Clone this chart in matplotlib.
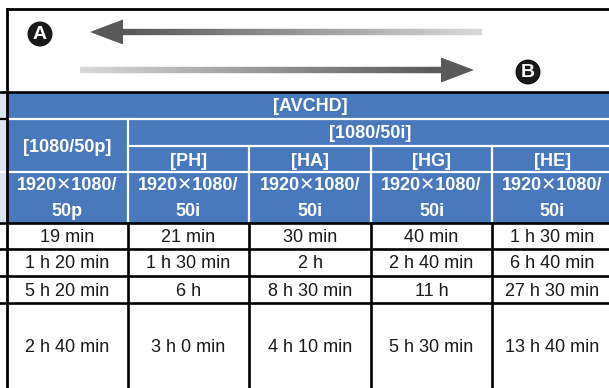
import matplotlib
matplotlib.use("Agg")
import matplotlib.pyplot as plt
import numpy as np
from matplotlib.path import Path
from matplotlib.patches import PathPatch, Circle, Rectangle

plt.rcParams['font.family'] = ['Liberation Sans', 'Noto Sans CJK JP', 'DejaVu Sans']

# table content
group_label = '[AVCHD]'
sub_group_label = '[1080/50i]'
modes = ['[1080/50p]', '[PH]', '[HA]', '[HG]', '[HE]']
resolutions = ['1920\u27151080/\n50p', '1920\u27151080/\n50i', '1920\u27151080/\n50i',
               '1920\u27151080/\n50i', '1920\u27151080/\n50i']
times_row1 = ['19 min', '21 min', '30 min', '40 min', '1 h 30 min']
times_row2 = ['1 h 20 min', '1 h 30 min', '2 h', '2 h 40 min', '6 h 40 min']
times_row3 = ['5 h 20 min', '6 h', '8 h 30 min', '11 h', '27 h 30 min']
times_row4 = ['2 h 40 min', '3 h 0 min', '4 h 10 min', '5 h 30 min', '13 h 40 min']
data_rows = [times_row1, times_row2, times_row3, times_row4]

BLUE = '#4a78bc'
STRIP = '#dce3f0'
W, H = 609, 388

fig = plt.figure(figsize=(W / 100, H / 100), dpi=100)
ax = fig.add_axes([0, 0, 1, 1])
ax.set_xlim(0, W)
ax.set_ylim(H, 0)
ax.axis('off')

# grid geometry (pixels)
col_x = [7, 128, 249, 371, 492, 613]
hdr_y = [92, 119, 146, 172, 223]
row_y = [223, 249, 276, 303, 388]
centers = [(col_x[i] + col_x[i + 1]) / 2 for i in range(5)]

# header background
ax.add_patch(Rectangle((col_x[0], hdr_y[0]), W - col_x[0], hdr_y[-1] - hdr_y[0],
                       facecolor=BLUE, edgecolor='none'))
ax.add_patch(Rectangle((0, hdr_y[0]), col_x[0], hdr_y[-1] - hdr_y[0],
                       facecolor=STRIP, edgecolor='none'))

# white separators in header
wl = dict(color='white', lw=1.6, zorder=2)
ax.plot([col_x[0], W], [hdr_y[1]] * 2, **wl)
ax.plot([col_x[1], W], [hdr_y[2]] * 2, **wl)
ax.plot([0, W], [hdr_y[3]] * 2, **wl)
ax.plot([col_x[1]] * 2, [hdr_y[1], hdr_y[4]], **wl)
for x in col_x[2:5]:
    ax.plot([x] * 2, [hdr_y[2], hdr_y[4]], **wl)
ax.plot([0, col_x[0]], [hdr_y[1]] * 2, color='black', lw=1.6, zorder=3)

# black lines in body
bl = dict(color='black', lw=1.9, zorder=3)
ax.plot([0, W], [hdr_y[0]] * 2, **bl)
ax.plot([0, W], [hdr_y[-1]] * 2, **bl)
for y in row_y[1:4]:
    ax.plot([0, W], [y] * 2, **bl)
for x in col_x[1:5]:
    ax.plot([x] * 2, [row_y[0], H], **bl)
# top box
ax.plot([col_x[0], col_x[0]], [9, H], color='black', lw=2.0, zorder=4)
ax.plot([col_x[0], W], [9, 9], color='black', lw=2.0, zorder=4)

# header text
hfont = dict(color='white', fontsize=13, fontweight='bold', ha='center', va='center', zorder=5)
ax.text((col_x[0] + col_x[-1]) / 2, (hdr_y[0] + hdr_y[1]) / 2 + 1, group_label, **hfont)
ax.text((col_x[1] + col_x[-1]) / 2, (hdr_y[1] + hdr_y[2]) / 2 + 1, sub_group_label, **hfont)
ax.text(centers[0], (hdr_y[1] + hdr_y[3]) / 2 + 2, modes[0], **hfont)
for i in range(1, 5):
    ax.text(centers[i], (hdr_y[2] + hdr_y[3]) / 2 + 2, modes[i], **hfont)
for i, res in enumerate(resolutions):
    top, bottom = res.split('\n')
    ax.text(centers[i], hdr_y[3] + 14, top, **hfont)
    ax.text(centers[i], hdr_y[3] + 40, bottom, **hfont)

# data text
for r, vals in enumerate(data_rows):
    yc = (row_y[r] + row_y[r + 1]) / 2 + 1.5
    for i, v in enumerate(vals):
        ax.text(centers[i], yc, v, fontsize=13, ha='center', va='center', color='#1a1a1a', zorder=5)


def gradient_arrow(x_tail, x_tip, y, shaft=3.2, head_h=12.5, head_len=33):
    d = 1 if x_tip > x_tail else -1
    xb = x_tip - d * head_len
    verts = [(x_tail, y - shaft), (xb, y - shaft), (xb, y - head_h), (x_tip, y),
             (xb, y + head_h), (xb, y + shaft), (x_tail, y + shaft), (x_tail, y - shaft)]
    codes = [Path.MOVETO] + [Path.LINETO] * 6 + [Path.CLOSEPOLY]
    patch = PathPatch(Path(verts, codes), facecolor='none', edgecolor='none')
    ax.add_patch(patch)
    n = 256
    t = np.linspace(0, 1, n)  # 0 at tail, 1 at tip
    g = 0.85 - 0.50 * np.clip(t / 0.9, 0, 1)
    if d < 0:
        g = g[::-1]
    img = np.tile(g, (2, 1))
    x0, x1 = min(x_tail, x_tip), max(x_tail, x_tip)
    im = ax.imshow(img, cmap='gray', vmin=0, vmax=1, aspect='auto',
                   extent=[x0, x1, y + head_h, y - head_h], zorder=4,
                   interpolation='bilinear')
    im.set_clip_path(patch)


gradient_arrow(482, 90, 32)
gradient_arrow(80, 474, 70)

for (cx, cy, letter) in [(40, 34, 'A'), (528, 72, 'B')]:
    ax.add_patch(Circle((cx, cy), 12.5, facecolor='#1a1a1a', edgecolor='none', zorder=5))
    ax.text(cx, cy + 0.5, letter, color='white', fontsize=14, fontweight='bold',
            ha='center', va='center', zorder=6)

ax.set_xlim(0, W)
ax.set_ylim(H, 0)
fig.savefig('out.png', dpi=100)
